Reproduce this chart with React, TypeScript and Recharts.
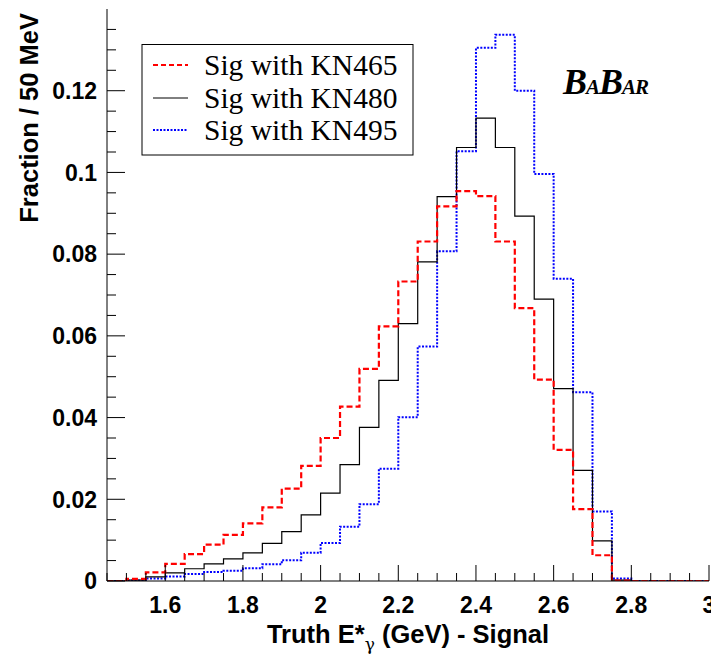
import React from 'react';
import { ComposedChart, Line, XAxis, YAxis } from 'recharts';

// Histogram bins (low edges, GeV); bin width 50 MeV
const binLowEdges = [
  1.45, 1.5, 1.55, 1.6, 1.65, 1.7, 1.75, 1.8, 1.85, 1.9, 1.95, 2.0, 2.05, 2.1, 2.15, 2.2,
  2.25, 2.3, 2.35, 2.4, 2.45, 2.5, 2.55, 2.6, 2.65, 2.7, 2.75, 2.8, 2.85, 2.9, 2.95,
];
const histUpperEdge = 3.0;

// Fraction / 50 MeV
const kn465 = [
  0, 0.0005, 0.0021, 0.0042, 0.0066, 0.0089, 0.0113, 0.0141, 0.018, 0.0226, 0.0282, 0.035,
  0.0427, 0.0519, 0.0623, 0.0733, 0.0831, 0.0917, 0.0954, 0.0942, 0.0831, 0.0668, 0.0493,
  0.0321, 0.0176, 0.0063, 0.0001, 0, 0, 0, 0,
];
const kn480 = [
  0, 0.0002, 0.001, 0.002, 0.003, 0.0042, 0.0054, 0.0069, 0.0092, 0.0121, 0.0162, 0.0215,
  0.0285, 0.0376, 0.0491, 0.063, 0.0781, 0.0941, 0.1061, 0.1133, 0.1061, 0.0893, 0.069,
  0.0471, 0.0271, 0.0098, 0.0002, 0, 0, 0, 0,
];
const kn495 = [
  0, 0.0001, 0.0006, 0.0011, 0.0017, 0.0022, 0.0025, 0.0031, 0.0041, 0.0051, 0.0069, 0.0093,
  0.0133, 0.0188, 0.0275, 0.0401, 0.0574, 0.0807, 0.1052, 0.1305, 0.1337, 0.12, 0.0996,
  0.074, 0.0462, 0.017, 0.0006, 0, 0, 0, 0,
];

const seriesNames = ['Sig with KN465', 'Sig with KN480', 'Sig with KN495'];

const xTickValues = [
  1.45, 1.5, 1.55, 1.6, 1.65, 1.7, 1.75, 1.8, 1.85, 1.9, 1.95, 2.0, 2.05, 2.1, 2.15, 2.2,
  2.25, 2.3, 2.35, 2.4, 2.45, 2.5, 2.55, 2.6, 2.65, 2.7, 2.75, 2.8, 2.85, 2.9, 2.95, 3.0,
];
const xMajorTicks = [1.6, 1.8, 2.0, 2.2, 2.4, 2.6, 2.8, 3.0];
const xTickLabels = ['1.6', '1.8', '2', '2.2', '2.4', '2.6', '2.8', '3'];

const yTickValues = [
  0, 0.005, 0.01, 0.015, 0.02, 0.025, 0.03, 0.035, 0.04, 0.045, 0.05, 0.055, 0.06, 0.065,
  0.07, 0.075, 0.08, 0.085, 0.09, 0.095, 0.1, 0.105, 0.11, 0.115, 0.12, 0.125, 0.13, 0.135,
];
const yMajorTicks = [0, 0.02, 0.04, 0.06, 0.08, 0.1, 0.12];
const yTickLabels = ['0', '0.02', '0.04', '0.06', '0.08', '0.1', '0.12'];

const xTitle = { main: 'Truth E*', sub: 'γ', rest: ' (GeV) - Signal' };
const yTitle = 'Fraction / 50 MeV';

const data = binLowEdges
  .map((x, i) => ({ x, kn465: kn465[i], kn480: kn480[i], kn495: kn495[i] }))
  .concat([
    {
      x: histUpperEdge,
      kn465: kn465[kn465.length - 1],
      kn480: kn480[kn480.length - 1],
      kn495: kn495[kn495.length - 1],
    },
  ]);

const SANS = '"Liberation Sans", Arial, Helvetica, sans-serif';
const SERIF = '"Liberation Serif", "Times New Roman", serif';

const near = (a: number, b: number) => Math.abs(a - b) < 1e-6;

function BottomTick(props: any) {
  const { x, y, payload } = props;
  const idx = xMajorTicks.findIndex((m) => near(m, payload.value));
  const major = idx >= 0;
  return (
    <g>
      <line x1={x} x2={x} y1={y} y2={y - (major ? 16 : 8)} stroke="#000" strokeWidth={1} />
      {major && (
        <text x={x} y={y + 32} textAnchor="middle" fontFamily={SANS} fontWeight="bold" fontSize={23} fill="#000">
          {xTickLabels[idx]}
        </text>
      )}
    </g>
  );
}

function TopTick(props: any) {
  const { x, y, payload } = props;
  const major = xMajorTicks.some((m) => near(m, payload.value));
  return <line x1={x} x2={x} y1={y} y2={y + (major ? 16 : 8)} stroke="#000" strokeWidth={1} />;
}

function LeftTick(props: any) {
  const { x, y, payload } = props;
  const idx = yMajorTicks.findIndex((m) => near(m, payload.value));
  const major = idx >= 0;
  return (
    <g>
      <line x1={x} x2={x + (major ? 18 : 9)} y1={y} y2={y} stroke="#000" strokeWidth={1} />
      {major && (
        <text x={x - 10} y={y} dy="0.36em" textAnchor="end" fontFamily={SANS} fontWeight="bold" fontSize={23} fill="#000">
          {yTickLabels[idx]}
        </text>
      )}
    </g>
  );
}

function RightTick(props: any) {
  const { x, y, payload } = props;
  const major = yMajorTicks.some((m) => near(m, payload.value));
  return <line x1={x} x2={x - (major ? 18 : 9)} y1={y} y2={y} stroke="#000" strokeWidth={1} />;
}

function XTitleLabel(props: any) {
  const vb = props.viewBox || {};
  const cx = vb.x + vb.width / 2;
  return (
    <text x={cx} y={vb.y + 62} textAnchor="middle" fontFamily={SANS} fontWeight="bold" fontSize={25.5} fill="#000">
      {xTitle.main}
      <tspan fontSize={17} dy={7} fontFamily='"DejaVu Serif", serif' fontWeight="normal">{xTitle.sub}</tspan>
      <tspan dy={-7}>{xTitle.rest}</tspan>
    </text>
  );
}

function YTitleLabel(props: any) {
  const vb = props.viewBox || {};
  const tx = 30;
  const ty = vb.y + 4;
  return (
    <text
      x={tx}
      y={ty}
      transform={`rotate(-90 ${tx} ${ty})`}
      textAnchor="end"
      fontFamily={SANS}
      fontWeight="bold"
      fontSize={25.5}
      fill="#000"
    >
      {yTitle}
    </text>
  );
}

const W = 711;
const H = 649;

export default function App() {
  return (
    <div style={{ position: 'relative', width: W, height: H }}>
      <style>{'body{overflow:hidden}'}</style>
      <ComposedChart width={W} height={H} data={data} margin={{ top: 1, right: 10, bottom: 0, left: 0 }}>
        <XAxis
          xAxisId="bottom"
          dataKey="x"
          type="number"
          domain={[1.45, 3.0]}
          allowDataOverflow
          ticks={xTickValues}
          interval={0}
          height={76}
          tickSize={0}
          tickMargin={0}
          tickLine={false}
          axisLine={{ stroke: '#000', strokeWidth: 1 }}
          tick={<BottomTick />}
          label={{ content: (p: any) => <XTitleLabel {...p} /> }}
        />
        <XAxis
          xAxisId="top"
          orientation="top"
          dataKey="x"
          type="number"
          domain={[1.45, 3.0]}
          allowDataOverflow
          ticks={xTickValues}
          interval={0}
          height={0}
          tickSize={0}
          tickMargin={0}
          tickLine={false}
          axisLine={{ stroke: '#000', strokeWidth: 1 }}
          tick={<TopTick />}
        />
        <YAxis
          yAxisId="left"
          type="number"
          domain={[0, 0.14]}
          allowDataOverflow
          ticks={yTickValues}
          interval={0}
          width={99}
          tickSize={0}
          tickMargin={0}
          tickLine={false}
          axisLine={{ stroke: '#000', strokeWidth: 1 }}
          tick={<LeftTick />}
          label={{ content: (p: any) => <YTitleLabel {...p} /> }}
        />
        <YAxis
          yAxisId="right"
          orientation="right"
          type="number"
          domain={[0, 0.14]}
          allowDataOverflow
          ticks={yTickValues}
          interval={0}
          width={0}
          tickSize={0}
          tickMargin={0}
          tickLine={false}
          axisLine={{ stroke: '#000', strokeWidth: 1 }}
          tick={<RightTick />}
        />
        <Line
          xAxisId="bottom"
          yAxisId="left"
          type="stepAfter"
          dataKey="kn495"
          name={seriesNames[2]}
          stroke="#0000ff"
          strokeWidth={2}
          strokeDasharray="2 1.5"
          dot={false}
          activeDot={false}
          isAnimationActive={false}
        />
        <Line
          xAxisId="bottom"
          yAxisId="left"
          type="stepAfter"
          dataKey="kn480"
          name={seriesNames[1]}
          stroke="#000000"
          strokeWidth={1.2}
          dot={false}
          activeDot={false}
          isAnimationActive={false}
        />
        <Line
          xAxisId="bottom"
          yAxisId="left"
          type="stepAfter"
          dataKey="kn465"
          name={seriesNames[0]}
          stroke="#ff0000"
          strokeWidth={2.2}
          strokeDasharray="6 3"
          dot={false}
          activeDot={false}
          isAnimationActive={false}
        />
      </ComposedChart>
      <svg
        width={W}
        height={H}
        style={{ position: 'absolute', left: 0, top: 0, pointerEvents: 'none' }}
      >
        <rect x={134} y={36.5} width={271} height={110.5} fill="#fff" stroke="#000" strokeWidth={1} />
        <line x1={145} x2={180} y1={57} y2={57} stroke="#ff0000" strokeWidth={2} strokeDasharray="5 3" />
        <line x1={145} x2={180} y1={90} y2={90} stroke="#000" strokeWidth={1} />
        <line x1={145} x2={180} y1={122} y2={122} stroke="#0000ff" strokeWidth={2} strokeDasharray="2 1.5" />
        <text x={196} y={67} fontFamily={SERIF} fontSize={29.5} fill="#000">{seriesNames[0]}</text>
        <text x={196} y={99.5} fontFamily={SERIF} fontSize={29.5} fill="#000">{seriesNames[1]}</text>
        <text x={196} y={131.5} fontFamily={SERIF} fontSize={29.5} fill="#000">{seriesNames[2]}</text>
        <text x={555} y={86} fontFamily={SERIF} fontWeight="bold" fontStyle="italic" fill="#000" letterSpacing={-1}>
          <tspan fontSize={36}>B</tspan>
          <tspan fontSize={21}>A</tspan>
          <tspan fontSize={36}>B</tspan>
          <tspan fontSize={21}>AR</tspan>
        </text>
      </svg>
    </div>
  );
}
